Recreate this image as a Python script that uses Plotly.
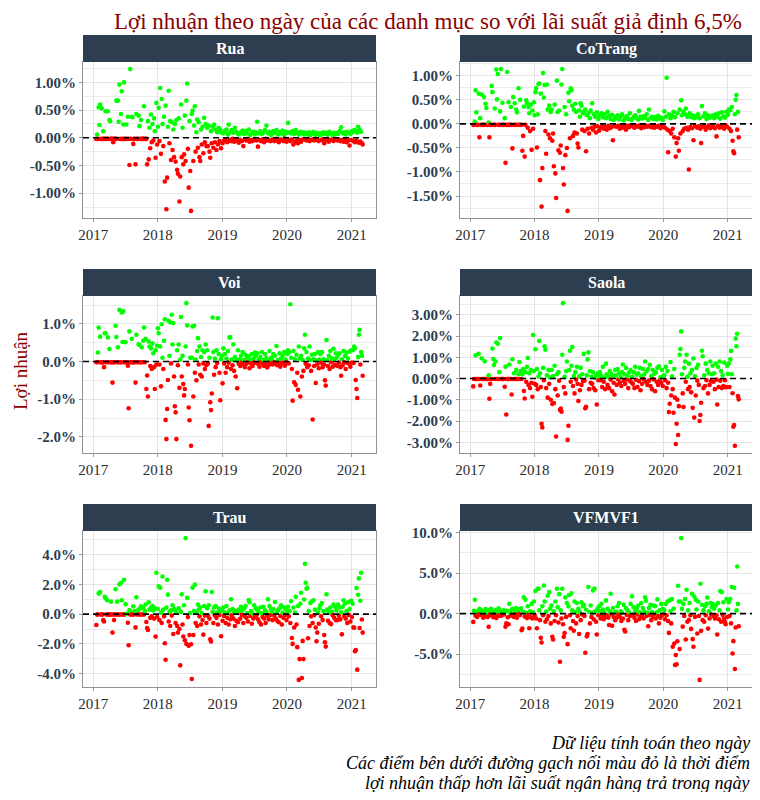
import math
import pandas as pd
import plotly.graph_objects as go
from plotly.subplots import make_subplots

# ---------------- data ----------------
panel_names = ["Rua", "CoTrang", "Voi", "Saola", "Trau", "VFMVF1"]
first_day = "2017-01-18"
last_day = "2021-03-04"
year_ticks = [2017, 2018, 2019, 2020, 2021]

# excess daily return vs. 6.5%/yr bank rate, in basis points (0.01%),
# read off the chart roughly every 3 trading days; one line per quarter
rua_bp = [
    -2, 6, -2, 55, 23, 60, -2, 53, -2, 12, -2, -2, 48, -2, -2, 48, -2, 32,
    30, -2, -2, -2, -8, -2, -2, -2, 67, -2, 67, 29, 96, -2, 43, 84, -2, 24, 100, -2, -2,
    24, -2, 38, -2, -49, 124, -2, 38, 37, -11, -2, -2, -48, 43, -2, -2, 40, 21, -2, 32, -2,
    -2, -2, 57, -2, -2, -2, -48, 30, -39, 18, -19, 42, -8, 25, -5, 35, 12, -36, 63, -12, 20,
    54, -6, 90, -29, 70, 25, -15, 38, -79, 58, -129, -72, 20, 85, -10, 30, -40, 28, -22, 15, -35,
    25, -43, 32, -58, -65, 35, -115, -70, 60, -35, 18, -48, -30, 40, -42, 67, 98, -20, -90, 30, -60,
    -132, 43, 49, -42, 22, 57, -25, 10, 33, -18, 28, -35, -42, 15, -12, 20, -28, 36, -8, 25, -15,
    18, -15, 22, -25, -36, 12, -10, 20, -18, 24, -8, 15, -22, 10, -12, 18, -6, 14, -19, 9, -10,
    8, -5, 12, -3, 15, -8, 6, 24, -4, 10, -6, 14, -2, 9, -7, 18, -3, 11, -5, 7, -9,
    6, -4, 10, -6, 13, -15, 7, -3, 12, -5, 8, -2, 15, -7, 5, -4, 9, -6, 11, -3, 6,
    10, -5, 29, -16, 8, -4, 12, -6, 7, -3, 9, -8, 14, -2, 22, -5, 8, -4, 11, -6, 5,
    7, -3, 12, -6, 9, -2, 14, -5, 6, -8, 10, -3, 8, -4, 13, -6, 5, -2, 11, -7, 9,
    27, -4, 10, -6, 8, -3, 12, -12, 7, -8, 14, -5, 9, -10, 6, -4, 11, -7, 8, -3, 10,
    6, -3, 9, -5, 7, -2, 10, -6, 5, -4, 8, -3, 11, -5, 6, -2, 9, -4, 7, -6, 5,
    8, -4, 6, -3, 10, -10, 7, -5, 9, -2, 6, -7, 11, -4, 8, -3, 5, -6, 9, -2, 7,
    9, -5, 7, -3, 12, -6, 19, -4, 8, -7, 10, -3, 6, -8, 11, -5, 9, -14, 7, -4, 12,
    10, -6, 14, -8, 12, -5, 9, 20, -9, 15, -7, 11, -10, -12,
]

cotrang_bp = [
    -2, -2, 5, 70, 24, -2, -2, 63, -28, 12, -2, 61, -2, -2, 56, -2, 42, 33,
    -2, -2, 3, -28, -2, -2, 79, 66, -2, -2, 32, -2, 113, 51, 104, -2, -2, 26, 114, -2, 44,
    -2, -2, 12, -81, -2, 108, -2, 45, -2, -2, 35, -2, -51, 56, -2, 43, -2, 30, 24, -2, 74,
    -2, 50, -2, -2, -56, -25, 36, -68, -2, 49, 43, -8, 35, 22, -15, 40, -54, 28, -10, 45, 18,
    66, 74, -49, 20, 83, 84, -117, 63, -172, -92, 106, 55, 81, -15, -62, 82, 30, -22, 38, -30, 25,
    30, -35, -20, -88, 40, -103, -154, 90, 25, -55, 28, -60, -45, 82, 114, -92, -126, 35, -65, 20, -50,
    -181, 65, 47, -30, 74, 70, 38, -25, 30, -18, 42, 25, -20, -41, -49, 28, 15, 43, 38, -12, 22,
    25, -15, 30, -57, 18, -10, 22, -20, 12, 28, -8, 43, -12, 20, -6, 15, -18, 24, -5, 10, -14,
    18, -8, 22, -5, 14, -10, 20, -6, 12, -12, 25, -4, 16, -9, 10, -7, 19, -34, 8, -5, 14,
    12, -6, 18, -4, 9, -10, 15, -3, 20, -8, 7, -5, 13, -12, 16, -4, 10, -7, 22, -3, 8,
    10, -5, 14, -8, 18, -4, 12, -6, 9, 27, -3, 15, -9, 11, -5, 16, -7, 13, -4, 20, -6,
    8, 30, -4, 12, -7, 15, -3, 10, -8, 14, -5, 9, -6, 17, -4, 11, -9, 13, -3, 8, -6,
    26, -8, 15, 96, -12, -59, 20, -15, 12, -20, 18, -10, 25, -28, 14, -68, -40, 22, -30, -56, 30,
    -20, 49, 18, -15, 25, -10, 20, 32, -8, 15, -12, -95, 22, -6, 14, -9, 18, -34, 12, -5, 16,
    14, -8, 20, -5, 12, -10, -40, 37, -6, 16, -4, 22, -12, 10, -7, 18, -3, 13, -9, 15, -5,
    18, -6, 12, -9, 20, -26, 15, -4, 22, -8, 11, -5, 24, -7, 16, -10, 13, -3, 25, -6, 19,
    30, -10, 28, -15, 35, -35, -57, -61, 20, 50, 60, -12, 25, -28,
]

voi_bp = [
    -2, -2, 24, 90, -2, 66, -2, -2, -2, -2, -15, 75, 75, -2, -2, 64, -2, 33,
    -2, -2, -2, -56, -2, -2, -2, 95, 65, -2, 38, -2, 137, -2, -2, 130, 52, 133, -2, -2, 51,
    -2, -2, -11, -124, 80, -2, -2, 60, -2, -2, -2, -2, -56, 71, -2, -2, 46, 44, -2, -2, 38,
    -2, 55, 90, -2, 60, -73, -37, -93, 53, 40, -12, 35, -20, 48, 22, -15, -73, 30, -8, 42, 88,
    75, -8, 40, -66, 99, 10, -20, 55, 112, -155, -206, -126, -49, 108, 15, 104, -5, 124, 45, 102, -40,
    -119, -135, -206, 30, -10, 45, -70, 5, 118, -40, 15, -60, -90, -73, 40, 155, 96, -8, -122, -156, 10,
    -224, 10, 93, -93, 95, -30, 5, -50, 28, 62, -8, 40, -35, 12, -40, 30, -5, 25, -20, 45, -10,
    30, -5, -171, 10, -108, -129, -85, 117, 25, -35, 8, -15, 30, -4, 115, 20, -30, -103, 6, 15, -58,
    35, -5, 20, -30, 8, -15, 28, -3, 64, 64, -20, 5, -10, 45, -25, 12, -40, 3, -71, 30, -6,
    5, -12, 15, -3, 25, -8, 4, -15, 18, -6, 10, -2, 14, -18, 3, -5, 20, -12, 8, -3, 24,
    15, -4, 22, -6, 6, -14, 12, -2, 25, -5, 4, -12, 20, -7, 9, -16, 3, -9, 28, -3, 10,
    6, -8, 20, -2, 15, -6, 41, -10, 4, -5, 22, -14, 8, -3, 16, -6, 25, -11, 5, -2, 20,
    30, -5, 25, 152, 10, -20, -104, 28, -55, 6, -62, 18, -30, -75, 40, 8, -93, 15, -40, 4, -25,
    35, 71, -6, 25, -15, 8, -10, 40, 4, -25, 18, -154, 6, -12, 20, -57, 3, -8, 25, -18, 5,
    20, -3, 25, -15, 6, -8, -50, -64, 57, 4, -12, 15, -20, 28, -2, 8, -14, 34, 5, -9, 22,
    10, -12, 18, -3, 22, -15, -38, 6, -10, 28, -2, 15, -20, 24, -4, 8, -5, 26, -14, 30, -3,
    30, -4, 40, 35, -49, -73, -97, 12, 71, 84, -8, 25, 15, -38,
]

saola_bp = [
    -37, -2, -2, 109, -2, -2, -2, 117, -2, -33, -2, 95, -2, -2, -2, 81, -2, -2,
    -2, -2, 15, -95, -25, -2, -2, 141, 92, 64, -2, 80, 170, -2, 164, -2, 30, 191, -2, -2, -2,
    -2, -2, -39, 56, -169, -2, -2, -2, 66, -2, -2, -75, 91, -2, 25, -2, -2, 40, -2, -2, 20,
    78, -2, 35, -2, 20, 45, -59, -94, 30, -15, 55, 97, -30, 25, -45, 40, -20, -86, 205, 35, -25,
    138, -30, 45, -50, 10, 177, 25, -40, -213, -230, 50, -8, 152, 136, -45, 15, -90, 40, -25, 5, -100,
    40, -120, 12, -115, 60, -50, -273, 20, -80, 30, -10, -148, -141, -156, 112, 355, -40, 8, -70, 35, 80,
    -289, -222, 40, 131, -15, 60, 148, -35, 12, -70, 30, -5, 55, -25, -106, 10, -55, 50, -30, 20, -12,
    116, -10, -140, -133, 15, 90, 123, -50, 35, -20, 8, -25, 30, -45, 5, -55, 18, -122, 25, -8, 12,
    30, -8, 12, -40, 55, -15, 5, -50, 70, 20, -30, 8, -45, 35, -5, 22, -60, 10, -20, -75, 40,
    15, -30, 45, -5, 25, -20, 6, -35, 30, 66, -12, 20, -25, 50, -4, 12, -45, 28, -10, 40, -18,
    8, -25, 30, -45, 55, -6, 18, -40, 25, -12, 50, -55, 10, -25, 45, -3, 20, 80, -15, 35, -30,
    45, -10, 65, -35, 12, -50, 40, -4, 22, -60, 28, -15, 50, -30, 58, -8, 6, -20, 40, -35, 14,
    15, -8, 55, -45, 35, -20, -158, -119, 78, -80, 10, -50, -161, 45, -90, -308, -213, -100, -266, -130, 112,
    139, 222, 20, -70, -134, 50, 80, -15, 112, 8, -50, 70, -40, 25, -65, 40, -138, 94, -184, 10, -80,
    50, -10, 65, -30, -200, -172, -114, 131, 105, -45, 15, -35, 70, -8, 40, -70, 25, -30, 80, -12, 20,
    60, -15, 25, -50, 70, -5, -122, 55, -40, 80, -10, 35, -45, 15, -35, 75, -8, -41, -40, 60, 22,
    70, -40, 90, 130, 20, -69, -227, -219, -317, 188, 152, 211, -83, -98,
]

trau_bp = [
    -73, -2, -2, 138, 144, 149, -2, -2, -2, -40, -50, 116, 109, -2, 93, -2, -2, -2,
    -2, 84, -2, -124, -2, -40, -2, 167, -2, 84, -2, -2, 200, -2, 211, 93, -2, -2, 231, -2, 67,
    3, 3, -58, -209, 27, -2, 15, -2, -2, 53, -2, 20, -89, 113, -2, 25, -2, 35, -2, 53, -2,
    -2, 40, -2, 20, 65, -53, -93, -107, 80, 30, -25, 45, -15, 55, 25, -30, 40, -151, 278, -20, 35,
    187, -40, 178, 10, -60, 253, 30, -15, -196, -307, 45, 231, 131, -50, 15, -80, 25, -10, 60, -133, 35,
    30, -60, 12, -80, -124, 40, -100, -344, 15, 133, -70, -150, 60, -175, 511, -200, 109, -20, -213, -140, 8,
    -202, -436, 178, -140, 20, 198, -60, 10, -80, 64, 30, -15, 45, -70, 8, -40, -138, 55, -10, 153, -60,
    40, -10, 60, -30, -169, -184, 149, 15, -60, 45, -8, 55, -25, 10, -70, 40, -5, 20, -149, 25, -45,
    45, -12, 10, -60, 55, -25, 5, -70, 25, -35, 100, -8, 35, -30, 15, -80, 20, -45, 8, -55, 30,
    10, -30, 50, -5, 25, -60, 40, -15, 55, -25, 8, -50, 95, 80, -12, 20, -65, 5, -30, 60, -18,
    40, -8, 30, -35, 12, -55, 45, -70, 5, -20, 50, -30, 25, -60, 15, -10, 100, -35, 55, -6, 30,
    18, -40, 35, -10, 82, -30, 8, -45, 25, -55, 40, -12, 60, -70, 10, -25, 45, -5, 35, -40, 15,
    50, -15, 20, -60, 87, -160, -200, 45, -90, 10, 116, -70, -222, 55, -442, -302, 70, 144, -429, -180, -302,
    98, 338, 211, 171, 178, -162, 20, -80, 75, -15, 85, -60, 93, -8, 30, -90, -182, -124, 10, -65, 40,
    60, -15, 75, -40, 20, -140, -189, -218, 133, 30, -45, 10, -60, 45, -67, 15, -8, 65, -25, 50, -40,
    25, -40, 65, -10, 45, -35, 12, -136, 50, 93, -15, 70, -30, 20, -60, 80, -5, 35, -50, 90, -20,
    70, -89, -91, -249, -242, 176, -373, 130, 240, -93, 90, 278, -36, -124,
]

vfmvf1_bp = [
    -102, 35, 171, -25, 10, -40, 30, -8, 60, -15, 45, -5, 20, -50, 8, -35, 55, -12,
    15, -40, -163, 45, -8, 60, -20, 12, -45, 30, -5, 40, -55, 10, -25, 65, -12, 25, -30, 5, -15,
    40, -10, 20, -160, -120, 35, -45, -130, 122, 8, -25, 50, -12, 60, -40, 15, -8, 70, -50, 25, -5,
    50, -15, 65, -204, -184, 20, 200, -35, 170, 10, -55, 90, -8, -180, 30, -45, 120, -60, 15, 150, -20,
    278, -60, -180, 306, 306, 40, -80, -298, -355, 90, -20, 347, 150, -100, 25, -70, 220, -30, 265, 60, -120,
    100, -286, -318, 30, -90, 150, -20, 306, 80, -110, 240, -592, 40, -60, 306, -130, -286, -240, 200, -40, 130,
    -376, 90, 230, -20, -180, 250, 40, -90, -210, 150, 15, -120, 130, -30, 60, -250, 20, -80, 140, -10, 90,
    110, -30, -482, 50, -280, -250, 327, 20, -120, 100, -40, 10, 286, -70, 310, 30, -100, -257, 60, -20, 90,
    30, -60, 120, -15, 50, -70, 10, -40, 163, -20, 60, -50, -140, 25, 245, -10, -150, 70, -40, 15, -80,
    20, -50, 90, -10, 130, -40, 30, -90, 8, -60, 110, -200, -220, 70, -15, 40, -80, 12, -30, 120, -20,
    212, -15, 80, -50, 30, -90, 60, -10, 100, -70, 15, -40, 130, -20, 70, -60, 25, 200, 160, -30, 10,
    -155, 70, -15, 110, -80, 20, -40, 100, -10, 90, -60, 15, 175, -30, -120, 40, -50, 120, -20, 60, -8,
    40, -70, 120, -20, 150, -90, -237, 163, 30, -120, 180, -408, 60, -367, -633, -510, -624, -340, 343, 150, -437,
    150, 930, 60, -160, 120, -30, 180, -318, 294, -100, 40, -80, 130, -20, -188, 245, -314, -408, 210, -40, 170,
    50, -245, 150, -30, -816, 367, -212, 110, -80, 40, -100, 90, -20, 120, 198, -184, 30, -60, 130, -10, 80,
    120, -30, 60, -60, 100, -20, -257, 130, -70, 40, 278, -100, 265, -15, 140, -60, -102, -131, 180, -40, 50,
    140, -30, 180, -120, 327, -490, -339, 318, -682, -170, 40, 580, 120, -155,
]

panel_values = [rua_bp, cotrang_bp, voi_bp, saola_bp, trau_bp, vfmvf1_bp]
tick_steps = [0.005, 0.005, 0.01, 0.01, 0.02, 0.05]
tick_decimals = [2, 2, 1, 2, 1, 1]

# ---------------- style / layout ----------------
# the page body has an 8px margin, so the figure starts at (8, 8) of the window
OFF = 8
W, H = 744, 784
SERIF = "Liberation Serif, Times New Roman, DejaVu Serif, serif"
GREEN = "#00FF00"
RED = "#FF0000"
STRIP = "#2C3E50"
GRID = "#e4e4e4"
BORDER = "#8d949a"
# positions in window pixels
col_px = [(83, 376), (460, 752)]
row_px = [(62, 218), (296, 453), (531, 687)]
strip_h = 27


def px(p):
    return (p - OFF) / W


def py(p):
    return 1 - (p - OFF) / H


def expand(lo, hi, f=0.05):
    s = hi - lo
    return lo - f * s, hi + f * s


fig = make_subplots(rows=3, cols=2)
shapes = []
annotations = []

for i, (name, bp) in enumerate(zip(panel_names, panel_values)):
    r, c = divmod(i, 2)
    n = i + 1
    ax = "" if n == 1 else str(n)
    vals = [v / 10000 for v in bp]
    dates = pd.date_range(first_day, last_day, periods=len(vals))
    colors = [GREEN if v > 0 else RED for v in vals]
    fig.add_trace(
        go.Scatter(
            x=dates, y=vals, mode="markers",
            marker=dict(size=4.6, color=colors, line=dict(width=0)),
            hoverinfo="skip", showlegend=False,
        ),
        row=r + 1, col=c + 1,
    )

    # ranges like ggplot's default 5% expansion
    ylo, yhi = expand(min(vals), max(vals))
    span = dates[-1] - dates[0]
    xlo, xhi = dates[0] - span * 0.05, dates[-1] + span * 0.05

    step = tick_steps[i]
    dec = tick_decimals[i]
    kmin, kmax = math.ceil(ylo / step - 1e-9), math.floor(yhi / step + 1e-9)
    ticks = [round(k * step, 6) for k in range(kmin, kmax + 1)]
    ticktext = [f"{t * 100:.{dec}f}%" for t in ticks]
    minors = [round((k + 0.5) * step, 6) for k in range(kmin - 1, kmax + 1)
              if ylo <= (k + 0.5) * step <= yhi]

    x0p, x1p = col_px[c]
    y0p, y1p = row_px[r]
    fig.layout[f"xaxis{ax}"].update(
        domain=[px(x0p), px(x1p)],
        range=[xlo, xhi],
        tickmode="array",
        tickvals=[pd.Timestamp(f"{y}-01-01") for y in year_ticks],
        ticktext=[str(y) for y in year_ticks],
        showgrid=True, gridcolor=GRID, gridwidth=1,
        showline=True, mirror=True, linecolor=BORDER, linewidth=1,
        ticks="outside", ticklen=3, tickcolor="#9a9a9a",
        tickfont=dict(family=SERIF, size=15, color="#2b2b2b"),
        zeroline=False, automargin=False,
    )
    fig.layout[f"yaxis{ax}"].update(
        domain=[py(y1p), py(y0p)],
        range=[ylo, yhi],
        tickmode="array", tickvals=ticks, ticktext=ticktext,
        minor=dict(tickmode="array", tickvals=minors, showgrid=True,
                   gridcolor="#ececec", gridwidth=1, ticks=""),
        showgrid=True, gridcolor=GRID, gridwidth=1,
        showline=True, mirror=True, linecolor=BORDER, linewidth=1,
        ticks="outside", ticklen=3, tickcolor="#9a9a9a",
        tickfont=dict(family=SERIF, size=15, color=STRIP, weight="bold"),
        zeroline=False, automargin=False,
    )

    # dashed reference line at zero
    shapes.append(dict(type="line", xref=f"x{ax} domain", yref=f"y{ax}",
                       x0=0, x1=1, y0=0, y1=0, layer="above",
                       line=dict(color="black", width=1.6, dash="6px,4px")))
    # facet strip
    shapes.append(dict(type="rect", xref="paper", yref="paper",
                       x0=px(x0p), x1=px(x1p),
                       y0=py(y0p), y1=py(y0p - strip_h),
                       fillcolor=STRIP, line=dict(width=0), layer="above"))
    annotations.append(dict(text=f"<b>{name}</b>", xref="paper", yref="paper",
                            x=px((x0p + x1p) / 2), y=py(y0p - strip_h / 2),
                            xanchor="center", yanchor="middle", showarrow=False,
                            font=dict(family=SERIF, size=16, color="white")))

annotations.append(dict(
    text="Lợi nhuận theo ngày của các danh mục so với lãi suất giả định 6,5%",
    xref="paper", yref="paper", x=px(428), y=py(21),
    xanchor="center", yanchor="middle", showarrow=False,
    font=dict(family=SERIF, size=23, color="#8B0000")))
annotations.append(dict(
    text="Lợi nhuận", xref="paper", yref="paper", x=px(20), y=py(371),
    xanchor="center", yanchor="middle", textangle=-90, showarrow=False,
    font=dict(family=SERIF, size=19, color="#8B0000")))

caption_lines = [
    "Dữ liệu tính toán theo ngày",
    "Các điểm bên dưới đường gạch nối màu đỏ là thời điểm",
    "lợi nhuận thấp hơn lãi suất ngân hàng trả trong ngày",
]
for k, line in enumerate(caption_lines):
    annotations.append(dict(
        text=f"<i>{line}</i>", xref="paper", yref="paper",
        x=px(752), y=py(743 + 20.2 * k),
        xanchor="right", yanchor="middle", showarrow=False,
        font=dict(family=SERIF, size=18, color="black")))

fig.update_layout(
    width=W, height=H,
    margin=dict(l=0, r=0, t=0, b=0),
    paper_bgcolor="white", plot_bgcolor="white",
    font=dict(family=SERIF),
    shapes=shapes, annotations=annotations,
    showlegend=False,
)

fig.write_html("out.html")
